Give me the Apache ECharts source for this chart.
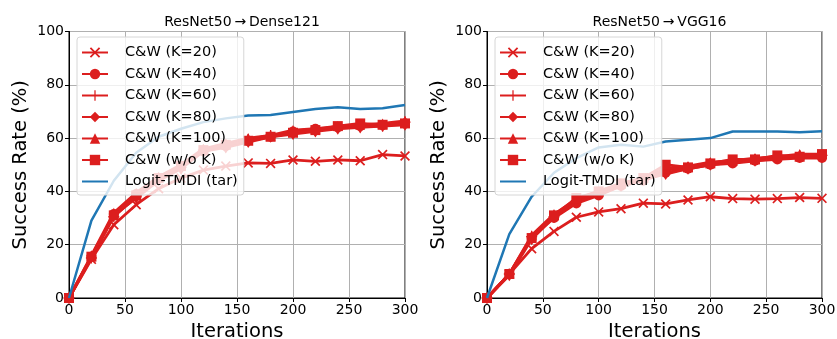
<!DOCTYPE html>
<html><head><meta charset="utf-8">
<script src="https://cdn.jsdelivr.net/npm/echarts@6/dist/echarts.min.js"></script>
<style>html,body{margin:0;padding:0;background:#fff}#c{width:837px;height:339px}</style>
</head><body><div id="c"></div>
<script>
const iterations = [0,20,40,60,80,100,120,140,160,180,200,220,240,260,280,300];
const seriesNames = ['C&W (K=20)','C&W (K=40)','C&W (K=60)','C&W (K=80)','C&W (K=100)','C&W (w/o K)','Logit-TMDI (tar)'];
const titles = ['ResNet50\u2009\u2192\u2009Dense121','ResNet50\u2009\u2192\u2009VGG16'];
const xTicks = [0,50,100,150,200,250,300];
const yTicks = [0,20,40,60,80,100];

// ResNet50 -> Dense121
const denseK20  = [0,14.5,27.5,35,41,45,48,49.5,50.7,50.5,51.8,51.3,51.8,51.5,53.8,53.3];
const denseK40  = [0,15.5,31.5,39,45,49.5,55,57,59,60.5,62.5,63.5,64,64.5,64.8,65.5];
const denseK60  = [0,15,30.5,38,44.5,49,55.5,57.5,59.5,61,62,63,64,64.5,64.5,66];
const denseK80  = [0,15.5,31,37.5,44,48.5,55,56.5,58.5,60.5,61.5,62.5,63.5,64,64.5,65];
const denseK100 = [0,16,32,39.5,45.5,50,56,58,60,61,63,63.5,64.5,65,65.5,66.5];
const denseWoK  = [0,15.5,31,38.5,45,49.5,55.5,57.5,59,60.5,62,63,64.5,65.5,65,65.5];
const denseTMDI = [0,29,44,54.5,60.5,63.5,66,67.4,68.5,68.7,69.8,70.9,71.6,70.9,71.2,72.4];

// ResNet50 -> VGG16
const vggK20  = [0,9,18.5,25,30.3,32.3,33.5,35.6,35.3,36.8,38,37.3,37.1,37.3,37.7,37.4];
const vggK40  = [0,9,22.5,30,35.5,38.5,42,44,47,48.5,50,50.5,51.5,52,52.5,52.5];
const vggK60  = [0,9,23,30.5,36.5,39,42,44.5,48,49,50.5,51.5,52,52.5,53.5,53.5];
const vggK80  = [0,8.5,22,30.5,36,39.5,42.5,44.5,46.5,48.5,50,51,51.5,52.5,53,53];
const vggK100 = [0,9,23.5,31.5,37,40,43,45,48.5,49.5,51,51.5,52.5,53,54,54];
const vggWoK  = [0,9,22.5,31,37.5,40,43,45,50,49,50.5,52,52,53.5,53,54];
const vggTMDI = [0,24,38,47,52.5,56.5,57.5,56.8,58.7,59.4,60,62.5,62.5,62.5,62.2,62.6];

const RED = '#dc1e1e', BLUE = '#1f77b4';
const FONT = 'DejaVu Sans';
const X_SYM = 'path://M0,1.2L1.2,0L5,3.8L8.8,0L10,1.2L6.2,5L10,8.8L8.8,10L5,6.2L1.2,10L0,8.8L3.8,5Z';
const PLUS_SYM = 'path://M4.4,0H5.6V4.4H10V5.6H5.6V10H4.4V5.6H0V4.4H4.4Z';
const markers = [
  {symbol: X_SYM, size: 10},
  {symbol: 'circle', size: 10},
  {symbol: PLUS_SYM, size: 11},
  {symbol: 'diamond', size: [8, 12]},
  {symbol: 'triangle', size: 10},
  {symbol: 'rect', size: 10},
  {symbol: 'circle', size: 0}
];

const panels = [
  {data: [denseK20,denseK40,denseK60,denseK80,denseK100,denseWoK,denseTMDI], left: 69, width: 336},
  {data: [vggK20,vggK40,vggK60,vggK80,vggK100,vggWoK,vggTMDI], left: 487, width: 335}
];

const legendData = seriesNames.map((n, k) => k === 6 ? {name: n, itemStyle: {opacity: 0}} : {name: n});

const grid = [], xAxis = [], yAxis = [], series = [], title = [], legend = [];
panels.forEach((p, i) => {
  grid.push({left: p.left, width: p.width, top: 31.5, height: 266.5, show: true, borderColor: '#000', borderWidth: 1,
    backgroundColor: 'transparent', containLabel: false, outerBoundsMode: 'none'});
  title.push({text: titles[i], left: p.left + p.width / 2, top: 10, textAlign: 'center',
    textStyle: {fontFamily: FONT, fontSize: 14, fontWeight: 'normal', color: '#000'}});
  xAxis.push({type: 'value', gridIndex: i, min: xTicks[0], max: xTicks[xTicks.length-1], interval: 50,
    name: 'Iterations', nameLocation: 'middle', nameGap: 21,
    nameTextStyle: {fontFamily: FONT, fontSize: 19.5, color: '#000'},
    axisLine: {show: true, onZero: false, lineStyle: {color: '#000', width: 1}},
    axisTick: {show: true, length: 4, lineStyle: {color: '#000'}},
    axisLabel: {fontFamily: FONT, fontSize: 14, color: '#000', margin: 5},
    splitLine: {show: true, lineStyle: {color: '#b0b0b0', width: 1}}});
  yAxis.push({type: 'value', gridIndex: i, min: yTicks[0], max: yTicks[yTicks.length-1], interval: 20,
    name: 'Success Rate (%)', nameLocation: 'middle', nameGap: 38,
    nameTextStyle: {fontFamily: FONT, fontSize: 19.5, color: '#000'},
    axisLine: {show: true, onZero: false, lineStyle: {color: '#000', width: 1}},
    axisTick: {show: true, length: 4, lineStyle: {color: '#000'}},
    axisLabel: {fontFamily: FONT, fontSize: 14, color: '#000', margin: 5},
    splitLine: {show: true, lineStyle: {color: '#b0b0b0', width: 1}}});
  p.data.forEach((vals, k) => {
    const isBlue = k === 6;
    series.push({
      type: 'line', name: seriesNames[k], xAxisIndex: i, yAxisIndex: i,
      data: iterations.map((x, j) => [x, vals[j]]),
      symbol: markers[k].symbol, symbolSize: markers[k].size, showSymbol: !isBlue,
      color: isBlue ? BLUE : RED,
      lineStyle: {color: isBlue ? BLUE : RED, width: isBlue ? 2.5 : 2.8},
      itemStyle: {color: isBlue ? BLUE : RED},
      animation: false, z: 2 + k * 0.01
    });
  });
  legend.push({left: p.left + 8, top: 37, orient: 'vertical', data: legendData,
    itemWidth: 26, itemHeight: 13, itemGap: 6.5,
    padding: [8, 6, 6, 4],
    backgroundColor: 'rgba(255,255,255,0.8)', borderColor: '#d6d6d6', borderWidth: 1, borderRadius: 3,
    textStyle: {fontFamily: FONT, fontSize: 14.5, color: '#000', lineHeight: 13, padding: [0,0,0,12]},
    selectedMode: false, z: 10});
});

const chart = echarts.init(document.getElementById('c'), null, {renderer: 'canvas'});
chart.setOption({animation: false, backgroundColor: '#fff', title, grid, xAxis, yAxis, legend, series});
</script>
</body></html>
